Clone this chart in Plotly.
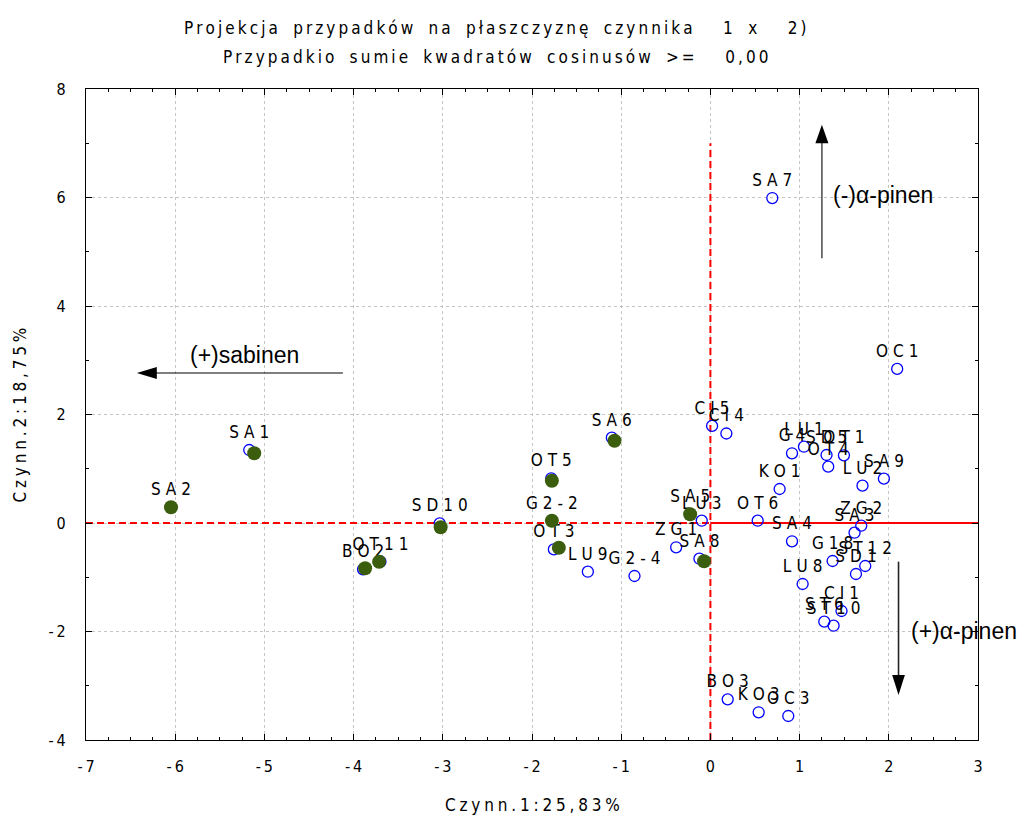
import plotly.graph_objects as go

# ---- data ----
case_names = ["SA7", "OC1", "CI5", "CI4", "G4", "LU1", "SD5", "OT1", "OT4", "KO1",
              "LU2", "SA9", "LU3", "OT6", "ZG2", "SA3", "SA4", "G18", "ST12", "SD1",
              "LU8", "CI1", "ST6", "ST10", "BO3", "KO3", "OC3", "ZG1", "SA8", "G2-4",
              "LU9", "OT3", "G2-2", "OT5", "SA6", "SA5", "SD10", "OT11", "BO2", "SA1", "SA2"]
case_f1 = [0.694, 2.094, 0.019, 0.179, 0.915, 1.049, 1.302, 1.497, 1.321, 0.776,
           1.705, 1.945, -0.097, 0.530, 1.691, 1.616, 0.915, 1.370, 1.736, 1.632,
           1.034, 1.470, 1.277, 1.381, 0.194, 0.541, 0.873, -0.384, -0.123, -0.851,
           -1.374, -1.755, -1.777, -1.784, -1.105, -0.227, -3.035, -3.699, -3.894, -5.170, -6.047]
case_f2 = [5.99, 2.84, 1.79, 1.65, 1.285, 1.406, 1.253, 1.248, 1.038, 0.627,
           0.688, 0.817, 0.042, 0.042, -0.050, -0.179, -0.337, -0.700, -0.793, -0.940,
           -1.124, -1.622, -1.819, -1.893, -3.250, -3.489, -3.558, -0.448, -0.658, -0.977,
           -0.898, -0.485, 0.042, 0.824, 1.572, 0.160, -0.006, -0.713, -0.853, 1.346, 0.289]

group_names = ["SA1", "SA2", "SD10", "BO2", "OT11", "OT5", "G2-2", "OT3", "SA6", "SA5", "SA8"]
group_f1 = [-5.114, -6.047, -3.024, -3.871, -3.714, -1.777, -1.777, -1.699, -1.075, -0.227, -0.071]
group_f2 = [1.285, 0.289, -0.079, -0.835, -0.713, 0.780, 0.042, -0.455, 1.517, 0.160, -0.706]

x_ticks = [-7, -6, -5, -4, -3, -2, -1, 0, 1, 2, 3]
y_ticks = [-4, -2, 0, 2, 4, 6, 8]

title_1 = "Projekcja przypadków na płaszczyznę czynnika  1 x  2)"
title_2 = "Przypadkio sumie kwadratów cosinusów >=  0,00"
x_title = "Czynn.1:25,83%"
y_title = "Czynn.2:18,75%"

NARROW = "Liberation Sans Narrow, Arial Narrow, DejaVu Sans Condensed, sans-serif"
ARIAL = "Liberation Sans, Arial, sans-serif"


def spaced(s, sep="\u2004", gap="\u2002\u2002\u2002"):
    out = []
    for ch in s:
        if ch == " ":
            out.append(gap)
        else:
            out.append(ch)
    res = ""
    for i, ch in enumerate(out):
        res += ch
        if i < len(out) - 1 and ch != gap and out[i + 1] != gap:
            res += sep
    return res


def neg_label(v):
    return ("-\u2009" + str(abs(v))) if v < 0 else str(v)


fig = go.Figure()

fig.add_trace(go.Scatter(
    x=case_f1, y=case_f2, mode="markers+text",
    text=[spaced(n) for n in case_names], textposition="top center",
    textfont=dict(family=NARROW, size=17, color="black"),
    marker=dict(symbol="circle-open", size=11, color="#0000ff", line=dict(width=1.3, color="#0000ff")),
    cliponaxis=False, showlegend=False, hoverinfo="skip"))

fig.add_trace(go.Scatter(
    x=group_f1, y=group_f2, mode="markers",
    marker=dict(symbol="circle", size=14, color="#3a5d0e"),
    showlegend=False, hoverinfo="skip"))

shapes = []
red = "#ff0000"
shapes.append(dict(type="line", x0=0, x1=0, y0=-4, y1=7, xref="x", yref="y",
                   line=dict(color=red, width=2, dash="7px,4px"), layer="between"))
shapes.append(dict(type="line", x0=-7, x1=0, y0=0, y1=0, xref="x", yref="y",
                   line=dict(color=red, width=2, dash="7px,4px"), layer="between"))
shapes.append(dict(type="line", x0=0, x1=3, y0=0, y1=0, xref="x", yref="y",
                   line=dict(color=red, width=2), layer="between"))

# arrows
# up: (-)alpha-pinen
shapes.append(dict(type="line", x0=1.25, x1=1.25, y0=4.88, y1=7.02, line=dict(color="#555555", width=1.6)))
shapes.append(dict(type="path", path="M 1.177,7.0 L 1.323,7.0 L 1.25,7.34 Z",
                   fillcolor="black", line=dict(color="black", width=0)))
# left: (+)sabinen
shapes.append(dict(type="line", x0=-4.12, x1=-6.22, y0=2.765, y1=2.765, line=dict(color="black", width=1.2)))
shapes.append(dict(type="path", path="M -6.206,2.655 L -6.206,2.875 L -6.43,2.765 Z",
                   fillcolor="black", line=dict(color="black", width=0)))
# down: (+)alpha-pinen
shapes.append(dict(type="line", x0=2.109, x1=2.109, y0=-0.713, y1=-2.82, line=dict(color="#222222", width=1.6)))
shapes.append(dict(type="path", path="M 2.038,-2.80 L 2.18,-2.80 L 2.109,-3.17 Z",
                   fillcolor="black", line=dict(color="black", width=0)))

annotations = [
    dict(x=1.937, y=6.05, xref="x", yref="y", text="(-)α-pinen", showarrow=False,
         font=dict(family=ARIAL, size=23, color="black")),
    dict(x=-5.22, y=3.10, xref="x", yref="y", text="(+)sabinen", showarrow=False,
         font=dict(family=ARIAL, size=23, color="black")),
    dict(x=2.845, y=-1.99, xref="x", yref="y", text="(+)α-pinen", showarrow=False,
         font=dict(family=ARIAL, size=23, color="black")),
    dict(x=0.4596, y=1.0937, xref="paper", yref="paper", text=spaced(title_1, sep="\u2009", gap="\u2002\u2002"),
         showarrow=False, yanchor="middle", font=dict(family=NARROW, size=17, color="black")),
    dict(x=0.4596, y=1.049, xref="paper", yref="paper", text=spaced(title_2, sep="\u2009", gap="\u2002\u2002"),
         showarrow=False, yanchor="middle", font=dict(family=NARROW, size=17, color="black")),
    dict(x=0.5, y=-0.0998, xref="paper", yref="paper", text=spaced(x_title, sep="\u2005"),
         showarrow=False, yanchor="middle", font=dict(family=NARROW, size=17, color="black")),
    dict(x=-0.074, y=0.5, xref="paper", yref="paper", text=spaced(y_title, sep="\u2005"), textangle=-90,
         showarrow=False, xanchor="center", yanchor="middle", font=dict(family=NARROW, size=17, color="black")),
]

axis_common = dict(showline=True, linecolor="black", linewidth=1.2, mirror="ticks",
                   ticks="inside", ticklen=6, tickcolor="black", zeroline=False,
                   showgrid=True, gridcolor="#c4c4c4", griddash="dot", gridwidth=1,
                   tickfont=dict(family=NARROW, size=16, color="black"))

fig.update_xaxes(range=[-7, 3], tickvals=x_ticks, ticktext=[neg_label(v) for v in x_ticks],
                 minor=dict(dtick=0.25, ticks="inside", ticklen=3, tickcolor="black", showgrid=False),
                 ticklabelstandoff=12, **axis_common)
fig.update_yaxes(range=[-4, 8], tickvals=y_ticks, ticktext=[neg_label(v) for v in y_ticks],
                 minor=dict(dtick=1, ticks="inside", ticklen=3, tickcolor="black", showgrid=False),
                 ticklabelstandoff=16, **axis_common)

fig.update_layout(width=1021, height=816, margin=dict(l=86, r=43, t=89, b=76),
                  paper_bgcolor="white", plot_bgcolor="white",
                  shapes=shapes, annotations=annotations)

fig.write_html("out.html")
